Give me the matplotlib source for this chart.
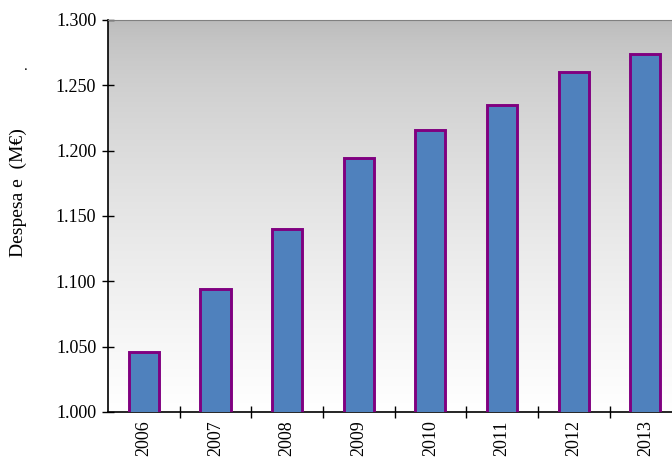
import matplotlib.pyplot as plt
import numpy as np
from matplotlib.ticker import FuncFormatter, FixedLocator

plt.rcParams["font.family"] = ["Liberation Serif", "DejaVu Serif"]
plt.rcParams["font.size"] = 13

anos = ['2006', '2007', '2008', '2009', '2010', '2011', '2012', '2013']
despesa = [1046, 1094, 1140, 1194, 1216, 1235, 1260, 1274]

fig = plt.figure(figsize=(6.72, 4.65), dpi=100)
ax = fig.add_axes([0.1607, 0.114, 0.853, 0.843])

# fundo em degradê cinzento (escuro em cima, branco em baixo)
grad = np.linspace(0.0, 1.0, 256) ** 0.65
grad = 0.73 + 0.27 * grad
grad = grad[:, None]
ax.imshow(np.dstack([grad, grad, grad]), extent=[0, 1, 0, 1], transform=ax.transAxes,
          aspect='auto', zorder=0, origin='upper')

x = np.arange(len(anos))
ax.bar(x, despesa, width=0.42, color='#4F81BD', edgecolor='#800080', linewidth=2.1, zorder=3)

ax.set_xlim(-0.5, len(anos) - 0.5)
ax.set_ylim(1000, 1300)
ax.set_yticks(np.arange(1000, 1301, 50))
ax.yaxis.set_major_formatter(FuncFormatter(lambda v, p: f'{v/1000:.3f}'))

ax.set_xticks(x)
ax.set_xticklabels(anos, rotation=90)
ax.tick_params(axis='x', which='major', length=0, pad=6)
ax.xaxis.set_minor_locator(FixedLocator(x[:-1] + 0.5))
ax.tick_params(axis='x', which='minor', direction='inout', length=9, width=1)
ax.tick_params(axis='y', direction='inout', length=9, width=1, pad=4)

ax.spines['right'].set_visible(False)
ax.spines['top'].set_color('#808080')
ax.spines['left'].set_linewidth(1.2)
ax.spines['bottom'].set_linewidth(1.2)

ax.set_ylabel('Despesa e  (M€)', fontsize=14)
ax.yaxis.set_label_coords(-0.142, 0.56)
fig.text(0.036, 0.85, '.', fontsize=11)

fig.savefig('out.png', dpi=100)
